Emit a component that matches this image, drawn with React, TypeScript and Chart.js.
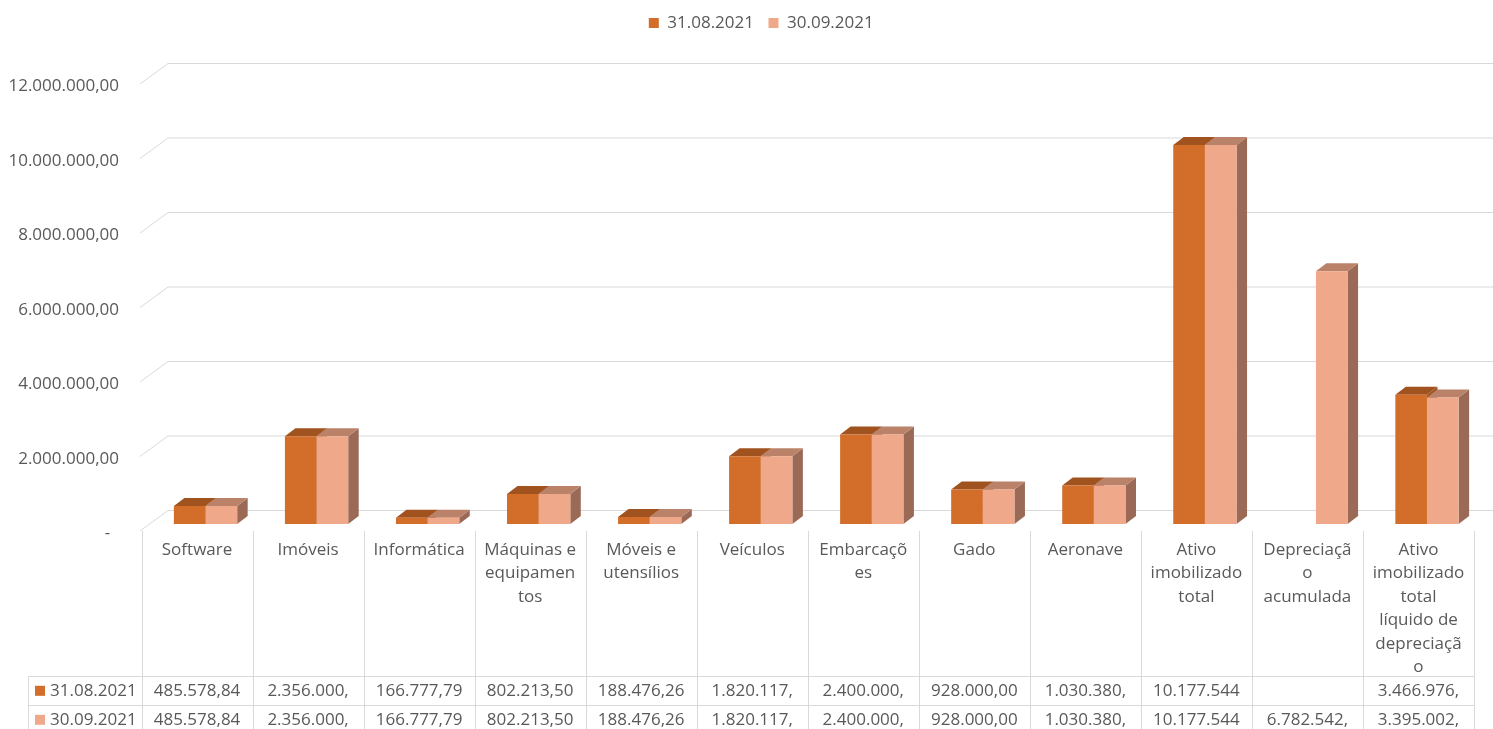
import React, { useEffect, useRef } from 'react';
import { Chart, registerables } from 'chart.js';

Chart.register(...registerables);

// ---------- data ----------
const categories: string[][] = [
  ['Software'],
  ['Imóveis'],
  ['Informática'],
  ['Máquinas e', 'equipamen', 'tos'],
  ['Móveis e', 'utensílios'],
  ['Veículos'],
  ['Embarcaçõ', 'es'],
  ['Gado'],
  ['Aeronave'],
  ['Ativo', 'imobilizado', 'total'],
  ['Depreciaçã', 'o', 'acumulada'],
  ['Ativo', 'imobilizado', 'total', 'líquido de', 'depreciaçã', 'o'],
];
const seriesNames = ['31.08.2021', '30.09.2021'];
const valuesAug: (number | null)[] = [
  485578.84, 2356000.0, 166777.79, 802213.5, 188476.26, 1820117.0, 2400000.0, 928000.0, 1030380.0, 10177544.0, null, 3466976.0,
];
const valuesSep: (number | null)[] = [
  485578.84, 2356000.0, 166777.79, 802213.5, 188476.26, 1820117.0, 2400000.0, 928000.0, 1030380.0, 10177544.0, 6782542.0, 3395002.0,
];
const yTicks = [0, 2000000, 4000000, 6000000, 8000000, 10000000, 12000000];

// ---------- style ----------
const W = 1493;
const H = 729;
const FONT = '"Open Sans", "Noto Sans", sans-serif';
const TEXT = '#595959';
const GRID = '#D9D9D9';
const DX = 10.5;
const DY = 8;
const FRONT = ['#D26E2A', '#F0A88A'];
const TOP = ['#A0521F', '#BB826A'];
const SIDE = ['#9E5622', '#9B6A56'];

function fmt(v: number): string {
  const [i, d] = v.toFixed(2).split('.');
  return i.replace(/\B(?=(\d{3})+(?!\d))/g, '.') + ',' + d;
}

const threeD = {
  id: 'threeD',
  beforeLayout(chart: any) {
    const lg = chart.legend;
    if (lg && !lg.__patched) {
      const f = lg.fit;
      lg.fit = function () {
        f.call(this);
        this.height = 77;
      };
      lg.__patched = true;
    }
  },
  afterLayout(chart: any) {
    const lg = chart.legend;
    if (lg) {
      lg.left += 20;
      lg.right += 20;
    }
  },
  beforeDatasetsDraw(chart: any) {
    const { ctx, chartArea } = chart;
    const y = chart.scales.y;
    ctx.save();
    ctx.strokeStyle = GRID;
    ctx.lineWidth = 1;
    for (const v of yTicks) {
      const p = y.getPixelForValue(v);
      ctx.beginPath();
      ctx.moveTo(chartArea.left - 10, p + 7);
      ctx.lineTo(chartArea.left + 18, p - 13.5);
      ctx.lineTo(W, p - 13.5);
      ctx.stroke();
    }
    chart.data.datasets.forEach((ds: any, di: number) => {
      const meta = chart.getDatasetMeta(di);
      meta.data.forEach((el: any, i: number) => {
        if (ds.data[i] == null) return;
        const { x, y: yt, base, width } = el.getProps(['x', 'y', 'base', 'width'], true);
        const x0 = x - width / 2;
        const x1 = x + width / 2;
        // side
        ctx.fillStyle = SIDE[di];
        ctx.beginPath();
        ctx.moveTo(x1, yt);
        ctx.lineTo(x1 + DX, yt - DY);
        ctx.lineTo(x1 + DX, base - DY);
        ctx.lineTo(x1, base);
        ctx.closePath();
        ctx.fill();
        // top
        ctx.fillStyle = TOP[di];
        ctx.beginPath();
        ctx.moveTo(x0, yt);
        ctx.lineTo(x0 + DX, yt - DY);
        ctx.lineTo(x1 + DX, yt - DY);
        ctx.lineTo(x1, yt);
        ctx.closePath();
        ctx.fill();
      });
    });
    ctx.restore();
  },
  afterDraw(chart: any) {
    const { ctx, chartArea } = chart;
    const xs = chart.scales.x;
    const n = categories.length;
    const catW = (xs.right - xs.left) / n;
    const left0 = xs.left - 8.5;
    const right0 = left0 + n * catW;
    const floorY = chartArea.bottom + 7;
    const rowTops = [676.5, 705.5, 734.5];
    const headLeft = 28.5;
    ctx.save();
    ctx.strokeStyle = GRID;
    ctx.lineWidth = 1;
    for (let i = 0; i <= n; i++) {
      const x = Math.round(left0 + i * catW) + 0.5;
      ctx.beginPath();
      ctx.moveTo(x, floorY);
      ctx.lineTo(x, H);
      ctx.stroke();
    }
    ctx.beginPath();
    ctx.moveTo(headLeft, rowTops[0]);
    ctx.lineTo(headLeft, H);
    ctx.stroke();
    for (const r of rowTops) {
      ctx.beginPath();
      ctx.moveTo(headLeft, r);
      ctx.lineTo(right0, r);
      ctx.stroke();
    }
    ctx.font = `17px ${FONT}`;
    ctx.textBaseline = 'middle';
    const series = [valuesAug, valuesSep];
    series.forEach((vals, s) => {
      const cy = rowTops[s] + 14.3;
      ctx.fillStyle = FRONT[s];
      ctx.fillRect(35, cy - 5, 10, 10);
      ctx.fillStyle = TEXT;
      ctx.textAlign = 'left';
      ctx.fillText(seriesNames[s], 50, cy);
      ctx.textAlign = 'center';
      vals.forEach((v, i) => {
        if (v == null) return;
        const cx = left0 + (i + 0.5) * catW;
        ctx.fillText(fmt(v).slice(0, 10), cx, cy);
      });
    });
    ctx.restore();
  },
};

export default function App() {
  const ref = useRef<HTMLCanvasElement>(null);
  useEffect(() => {
    if (!ref.current) return;
    const chart = new Chart(ref.current, {
      type: 'bar',
      data: {
        labels: categories,
        datasets: [
          {
            label: seriesNames[0],
            data: valuesAug,
            backgroundColor: FRONT[0],
            borderWidth: 0,
            categoryPercentage: 0.57,
            barPercentage: 1,
          },
          {
            label: seriesNames[1],
            data: valuesSep,
            backgroundColor: FRONT[1],
            borderWidth: 0,
            categoryPercentage: 0.57,
            barPercentage: 1,
          },
        ],
      },
      options: {
        responsive: false,
        animation: false,
        devicePixelRatio: 1,
        layout: { padding: { left: 0, right: 10.5, top: 0, bottom: 0 } },
        plugins: {
          legend: {
            position: 'top',
            labels: {
              boxWidth: 10,
              boxHeight: 10,
              padding: 14.5,
              color: TEXT,
              font: { family: FONT, size: 17 },
            },
          },
          tooltip: { enabled: false },
        },
        scales: {
          x: {
            grid: { display: false, drawTicks: false },
            border: { display: false },
            afterFit: (s: any) => {
              s.height = 205;
            },
            ticks: {
              autoSkip: false,
              maxRotation: 0,
              minRotation: 0,
              padding: 14,
              labelOffset: -8.5,
              color: TEXT,
              font: { family: FONT, size: 17, lineHeight: 1.382 },
            },
          },
          y: {
            min: 0,
            max: 12000000,
            grid: { display: false, drawTicks: false },
            border: { display: false },
            afterFit: (s: any) => {
              s.width = 150;
            },
            afterBuildTicks: (s: any) => {
              s.ticks = yTicks.map((v) => ({ value: v }));
            },
            ticks: {
              padding: 31,
              labelOffset: 9.5,
              color: TEXT,
              font: { family: FONT, size: 17 },
              callback: (v: any) => (Number(v) === 0 ? '-\u00A0\u00A0' : fmt(Number(v))),
            },
          },
        },
      },
      plugins: [threeD],
    } as any);
    return () => chart.destroy();
  }, []);
  return (
    <canvas
      ref={ref}
      width={W}
      height={H}
      style={{ position: 'fixed', left: 0, top: 0, width: W, height: H }}
    />
  );
}
